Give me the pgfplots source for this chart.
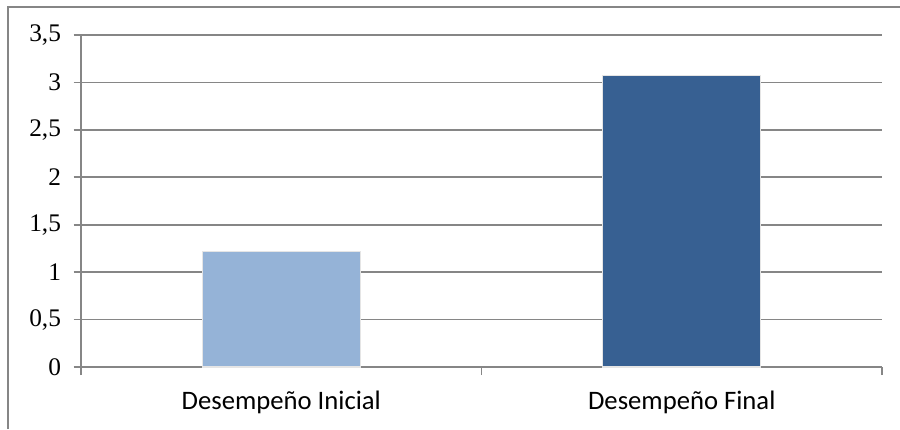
\documentclass[border=0pt]{standalone}
\usepackage{fontspec}
\setmainfont{Liberation Serif}
\newfontfamily\calibri{Carlito}
\usepackage{pgfplots}
\pgfplotsset{compat=1.18}

\definecolor{inicial}{HTML}{95B3D7}
\definecolor{final}{HTML}{376092}
\definecolor{gridgray}{HTML}{868686}

\begin{document}
\begin{tikzpicture}[x=0.75pt,y=0.75pt]
  % picture frame in pixel coords relative to plot origin (81,367)
  \useasboundingbox (-81,-62) rectangle (819,367);
  \draw[gridgray, line width=1.3pt] (-73,-62) -- (-73,360) -- (819,360);
  \begin{axis}[
      at={(0,0)}, anchor=south west,
      scale only axis,
      width=600.75pt, height=249pt,
      ymin=0, ymax=3.5,
      ytick={0,0.5,...,3.5},
      xmin=-0.5, xmax=1.5,
      xtick={0,1},
      xticklabels={Desempeño Inicial, Desempeño Final},
      minor xtick={-0.5,0.5,1.5},
      axis x line*=bottom,
      axis y line*=left,
      axis line style={gridgray, line width=1.3pt, -},
      ymajorgrids,
      major grid style={gridgray, line width=1.3pt},
      tick align=outside,
      major tick length=5.5pt,
      minor tick length=6pt,
      x tick style={draw=none},
      minor x tick style={draw=gridgray, line width=1.3pt},
      y tick style={gridgray, line width=1.3pt},
      /pgf/number format/use comma,
      /pgf/number format/assume math mode=true,
      yticklabel style={font=\fontsize{19}{21}\selectfont, xshift=-6pt},
      xticklabel style={font=\calibri\fontsize{20}{24}\selectfont, yshift=-9pt},
      ybar, bar width=118.5pt, bar shift=0pt,
    ]
    \addplot[fill=inicial, draw=black!10, line width=1pt] coordinates {(0,1.22)};
    \addplot[fill=final, draw=black!10, line width=1pt] coordinates {(1,3.07)};
  \end{axis}
\end{tikzpicture}
\end{document}
